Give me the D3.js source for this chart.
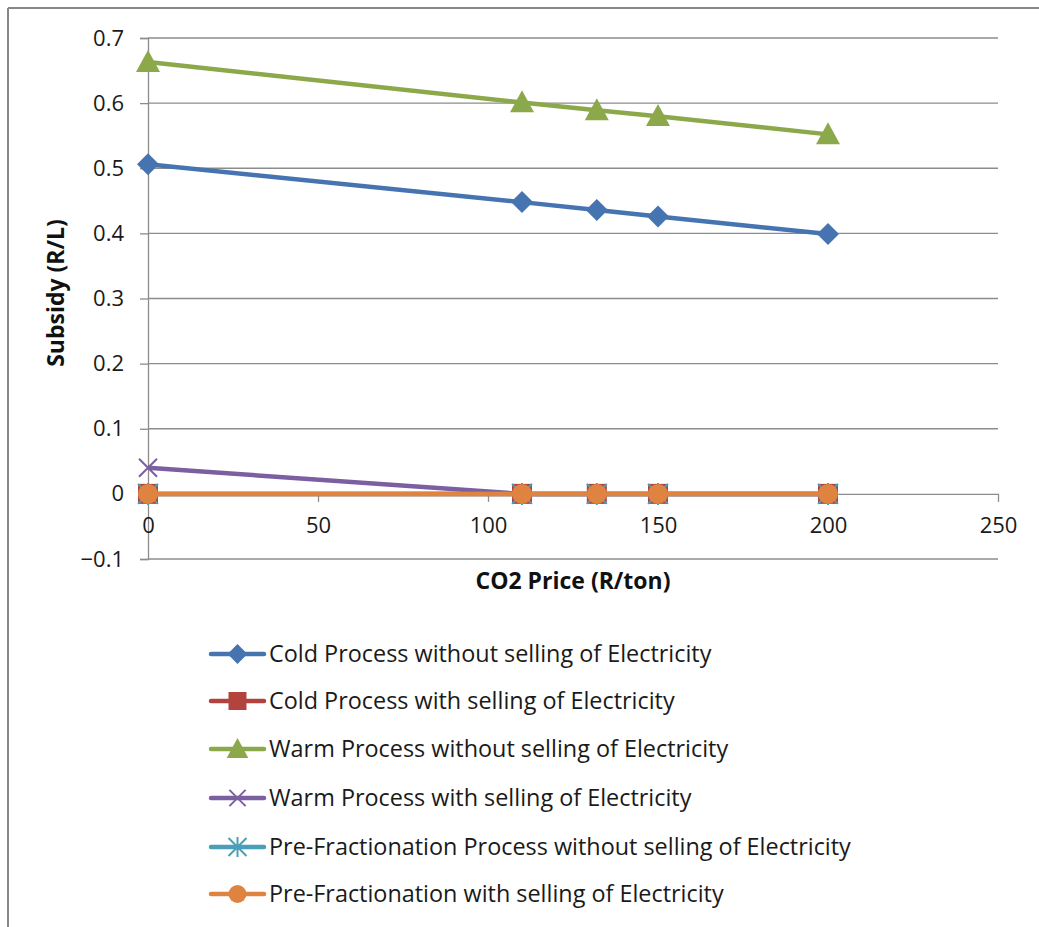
<!DOCTYPE html>
<html>
<head>
<meta charset="utf-8">
<script src="https://cdn.jsdelivr.net/npm/d3@7"></script>
<style>
  html, body { margin: 0; padding: 0; background: #fff; }
  svg { display: block; font-family: "Open Sans", "Liberation Sans", sans-serif; }
</style>
</head>
<body>
<svg id="chart" width="1039" height="927"></svg>
<script>
// CO2 price points (R/ton)
const co2Prices = [0, 110, 132, 150, 200];

// Subsidy (R/L) per process
const coldWithout = [0.506, 0.448, 0.436, 0.426, 0.399];
const coldWith = [0, 0, 0, 0, 0];
const warmWithout = [0.663, 0.601, 0.589, 0.580, 0.552];
const warmWith = [0.040, 0, 0, 0, 0];
const preFracWithout = [0, 0, 0, 0, 0];
const preFracWith = [0, 0, 0, 0, 0];

const seriesNames = [
  "Cold Process without selling of Electricity",
  "Cold Process with selling of Electricity",
  "Warm Process without selling of Electricity",
  "Warm Process with selling of Electricity",
  "Pre-Fractionation Process without selling of Electricity",
  "Pre-Fractionation with selling of Electricity"
];

const xTicks = [0, 50, 100, 150, 200, 250];
const yTicks = [-0.1, 0, 0.1, 0.2, 0.3, 0.4, 0.5, 0.6, 0.7];

const seriesValues = [coldWithout, coldWith, warmWithout, warmWith, preFracWithout, preFracWith];
const colors = ["#4674B0", "#B3433F", "#8BA94A", "#7C5FA0", "#4A9FB8", "#DE8440"];
const symbols = ["diamond", "square", "triangle", "x", "star", "circle"];

const svg = d3.select("#chart");
const gridColor = "#8c8c8c";
const fontFamily = "'Open Sans', sans-serif";

// outer chart frame (top and left edges)
svg.append("line").attr("x1", 8).attr("x2", 1039).attr("y1", 8).attr("y2", 8)
  .attr("stroke", "#878787").attr("stroke-width", 2);
svg.append("line").attr("x1", 8).attr("x2", 8).attr("y1", 8).attr("y2", 927)
  .attr("stroke", "#878787").attr("stroke-width", 2);

const x = d3.scaleLinear().domain([0, 250]).range([148, 998]);
const y = d3.scaleLinear().domain([-0.1, 0.7]).range([559, 38]);

// horizontal gridlines
svg.append("g").selectAll("line").data(yTicks.filter(v => v !== 0)).join("line")
  .attr("x1", x(0)).attr("x2", x(250))
  .attr("y1", d => y(d)).attr("y2", d => y(d))
  .attr("stroke", gridColor).attr("stroke-width", 1.3);

// y axis
const yAxis = svg.append("g").attr("transform", `translate(${x(0)},0)`)
  .call(d3.axisLeft(y).tickValues(yTicks).tickSize(8).tickPadding(16)
    .tickFormat(d => d3.format("")(+d.toFixed(1))));
yAxis.select(".domain").attr("stroke", gridColor).attr("stroke-width", 1.3);
yAxis.selectAll(".tick line").attr("stroke", gridColor).attr("stroke-width", 1.3);
yAxis.selectAll(".tick text").attr("font-size", 22).attr("fill", "#1a1a1a")
  .attr("font-family", fontFamily);

// x axis crossing at zero
const xAxis = svg.append("g").attr("transform", `translate(0,${y(0)})`)
  .call(d3.axisBottom(x).tickValues(xTicks).tickSize(8).tickSizeOuter(0).tickPadding(16));
xAxis.select(".domain").attr("stroke", gridColor).attr("stroke-width", 1.3);
xAxis.selectAll(".tick line").attr("stroke", gridColor).attr("stroke-width", 1.3);
xAxis.selectAll(".tick text").attr("font-size", 22).attr("fill", "#1a1a1a")
  .attr("font-family", fontFamily);

// axis titles
svg.append("text").attr("x", 573).attr("y", 589).attr("text-anchor", "middle")
  .attr("font-size", 23).attr("font-weight", "bold").attr("fill", "#111")
  .text("CO2 Price (R/ton)");
svg.append("text").attr("transform", "translate(64,293) rotate(-90)")
  .attr("text-anchor", "middle")
  .attr("font-size", 23).attr("font-weight", "bold").attr("fill", "#111")
  .text("Subsidy (R/L)");

// marker drawing
function drawMarker(g, type, cx, cy, color, s) {
  const k = s || 1;
  if (type === "diamond") {
    const r = 11 * k;
    g.append("path").attr("d", `M${cx},${cy - r}L${cx + r},${cy}L${cx},${cy + r}L${cx - r},${cy}Z`)
      .attr("fill", color);
  } else if (type === "square") {
    const r = 10 * k;
    g.append("rect").attr("x", cx - r).attr("y", cy - r).attr("width", 2 * r).attr("height", 2 * r)
      .attr("fill", color);
  } else if (type === "triangle") {
    const w = 12 * k, h = 22 * k;
    g.append("path").attr("d", `M${cx},${cy - h * 0.55}L${cx + w},${cy + h * 0.45}L${cx - w},${cy + h * 0.45}Z`)
      .attr("fill", color);
  } else if (type === "x") {
    const r = 9 * k;
    g.append("path").attr("d", `M${cx - r},${cy - r}L${cx + r},${cy + r}M${cx - r},${cy + r}L${cx + r},${cy - r}`)
      .attr("stroke", color).attr("stroke-width", 2).attr("fill", "none");
  } else if (type === "star") {
    const r = 10 * k;
    g.append("path").attr("d",
      `M${cx - r},${cy - r}L${cx + r},${cy + r}M${cx - r},${cy + r}L${cx + r},${cy - r}M${cx},${cy - r * 1.1}L${cx},${cy + r * 1.1}`)
      .attr("stroke", color).attr("stroke-width", 2).attr("fill", "none");
  } else if (type === "circle") {
    g.append("circle").attr("cx", cx).attr("cy", cy).attr("r", 10 * k).attr("fill", color);
  }
}

const line = d3.line().x((d, i) => x(co2Prices[i])).y(d => y(d));

// series lines and markers
seriesValues.forEach((vals, si) => {
  const g = svg.append("g");
  g.append("path").datum(vals).attr("d", line)
    .attr("fill", "none").attr("stroke", colors[si]).attr("stroke-width", 4.5)
    .attr("stroke-linejoin", "round");
  vals.forEach((v, i) => drawMarker(g, symbols[si], x(co2Prices[i]), y(v), colors[si], 1));
});

// legend
const legendY = [654, 701, 749, 798, 847, 894];
seriesNames.forEach((name, si) => {
  const g = svg.append("g");
  const ly = legendY[si];
  g.append("line").attr("x1", 211).attr("x2", 264).attr("y1", ly).attr("y2", ly)
    .attr("stroke", colors[si]).attr("stroke-width", 4.5).attr("stroke-linecap", "round");
  drawMarker(g, symbols[si], 237.5, ly, colors[si], 0.9);
  g.append("text").attr("x", 269).attr("y", ly).attr("dy", "0.35em")
    .attr("font-size", 23.4).attr("fill", "#1a1a1a").attr("font-family", fontFamily).text(name);
});
</script>
</body>
</html>
